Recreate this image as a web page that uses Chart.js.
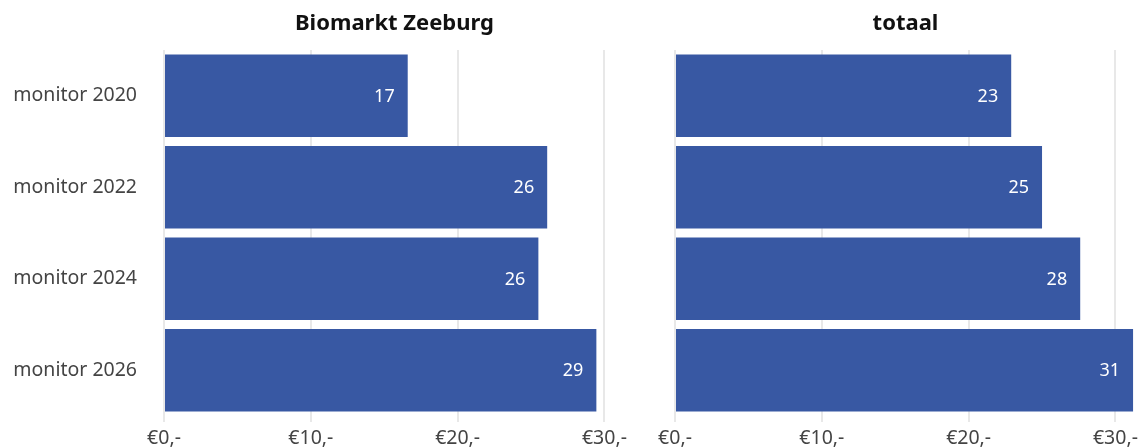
<!DOCTYPE html>
<html>
<head>
<meta charset="utf-8">
<script src="https://cdn.jsdelivr.net/npm/chart.js@4"></script>
<style>
  html, body { margin: 0; padding: 0; background: #fff; }
  #wrap { position: relative; width: 1144px; height: 448px; }
  .box { position: absolute; top: 0; height: 448px; }
  #boxLeft { left: 0; width: 640px; }
  #boxRight { left: 640px; width: 504px; }
</style>
</head>
<body>
<div id="wrap">
  <div class="box" id="boxLeft"><canvas id="chartLeft"></canvas></div>
  <div class="box" id="boxRight"><canvas id="chartRight"></canvas></div>
</div>
<script>
// data
var categories = ['monitor 2020', 'monitor 2022', 'monitor 2024', 'monitor 2026'];
var valuesBiomarkt = [16.6, 26.1, 25.5, 29.45];
var valuesTotaal = [22.9, 25.0, 27.6, 31.2];
var panelTitles = ['Biomarkt Zeeburg', 'totaal'];
var xTicks = [0, 10, 20, 30];

var barColor = '#3858a3';
var fontFamily = '"Noto Sans", "Open Sans", sans-serif';

// titel boven het plotgebied + waarden in de balken
var panelPlugin = {
    id: 'panelPlugin',
    afterDatasetsDraw: function (chart, args, opts) {
        var ctx = chart.ctx;
        var area = chart.chartArea;
        ctx.save();
        ctx.fillStyle = '#111';
        ctx.font = 'bold 22px ' + fontFamily;
        ctx.textAlign = 'center';
        ctx.textBaseline = 'middle';
        ctx.fillText(opts.title, (area.left + area.right) / 2, 24);

        ctx.fillStyle = '#fff';
        ctx.font = '18px ' + fontFamily;
        ctx.textAlign = 'right';
        var meta = chart.getDatasetMeta(0);
        meta.data.forEach(function (bar, i) {
            var v = chart.data.datasets[0].data[i];
            ctx.fillText(Math.round(v), bar.x - 13, bar.y + 1);
        });
        ctx.restore();
    }
};

function makeConfig(values, title, yColor, axisWidth, padRight) {
    return {
        type: 'bar',
        data: {
            labels: categories,
            datasets: [{
                data: values,
                backgroundColor: barColor,
                barPercentage: 0.9,
                categoryPercentage: 1.0
            }]
        },
        options: {
            indexAxis: 'y',
            responsive: true,
            maintainAspectRatio: false,
            animation: false,
            layout: {
                autoPadding: false,
                padding: { top: 50, right: padRight, left: 0, bottom: 0 }
            },
            plugins: {
                legend: { display: false },
                tooltip: { enabled: false },
                panelPlugin: { title: title }
            },
            scales: {
                x: {
                    min: 0,
                    max: 31.4,
                    afterBuildTicks: function (scale) {
                        scale.ticks = xTicks.map(function (v) { return { value: v }; });
                    },
                    afterFit: function (scale) {
                        scale.height = 32;
                        scale.paddingLeft = 0;
                        scale.paddingRight = 0;
                    },
                    border: { display: false },
                    grid: { color: '#e8e8e8', lineWidth: 2, tickLength: 6 },
                    ticks: {
                        color: '#444',
                        padding: 5,
                        font: { family: fontFamily, size: 19.5 },
                        maxRotation: 0,
                        callback: function (v) { return '€' + v + ',-'; }
                    }
                },
                y: {
                    afterFit: function (scale) {
                        scale.width = axisWidth;
                        scale.paddingTop = 0;
                        scale.paddingBottom = 0;
                    },
                    border: { display: false },
                    grid: { display: false, drawTicks: false },
                    ticks: {
                        color: yColor,
                        padding: 27,
                        font: { family: fontFamily, size: 19.5 }
                    }
                }
            }
        },
        plugins: [panelPlugin]
    };
}

new Chart(document.getElementById('chartLeft').getContext('2d'),
    makeConfig(valuesBiomarkt, panelTitles[0], '#444', 164, 15));
new Chart(document.getElementById('chartRight').getContext('2d'),
    makeConfig(valuesTotaal, panelTitles[1], 'rgba(0,0,0,0)', 35, 8));
</script>
</body>
</html>
